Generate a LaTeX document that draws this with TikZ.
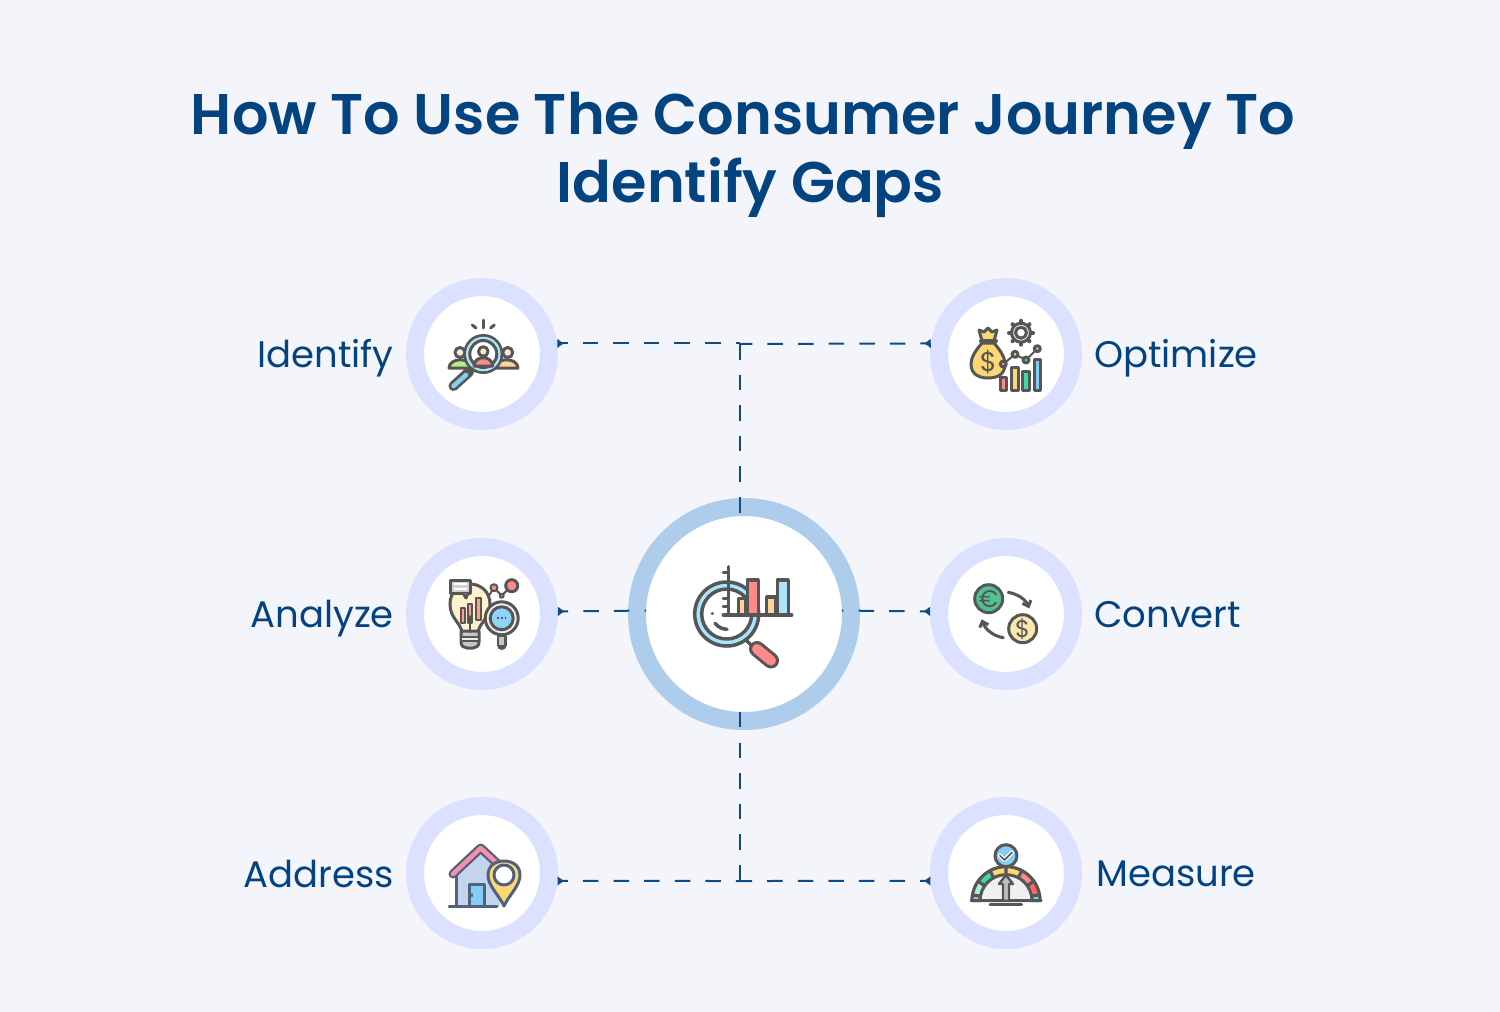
\documentclass[tikz,border=0pt]{standalone}
\usepackage{fontspec}
\setmainfont{Poppins}
\newfontfamily\titlefont{Poppins SemiBold}
\usetikzlibrary{arrows.meta,calc}
\definecolor{bgcol}{HTML}{F4F5FB}
\definecolor{navy}{HTML}{03437F}
\definecolor{ringcol}{HTML}{DCE1FF}
\definecolor{hubcol}{HTML}{AECDEC}
\definecolor{linecol}{HTML}{0F4C86}
\definecolor{icgray}{HTML}{565656}
\definecolor{icslate}{HTML}{52617F}
\definecolor{icpink}{HTML}{FF8A8A}
\definecolor{icrose}{HTML}{F78FAD}
\definecolor{icyellow}{HTML}{FBD873}
\definecolor{icgreen}{HTML}{3EDB9F}
\definecolor{icteal}{HTML}{52C293}
\definecolor{iclime}{HTML}{B4EE8C}
\definecolor{icblue}{HTML}{84CDF5}
\definecolor{icorange}{HTML}{FFD29A}
\definecolor{icsky}{HTML}{A8E6FC}
\definecolor{ichouse}{HTML}{C3D4EC}
\tikzset{
  x=1pt,y=-1pt,
  ring/.style={circle,draw=ringcol,line width=18pt,fill=white,minimum size=134pt,inner sep=0pt},
  hubring/.style={circle,draw=hubcol,line width=18pt,fill=white,minimum size=214pt,inner sep=0pt},
  hubcore/.style={circle,minimum size=196pt,inner sep=0pt,outer sep=0pt},
  lab/.style={font=\fontsize{37}{44}\selectfont,text=navy,inner sep=0pt},
  link/.style={draw=linecol,line width=2pt,dash pattern=on 15.5pt off 15.1pt},
  tiplink/.style={link,dash phase=9.6pt,{Latex[reversed,length=7pt,width=10pt]}-},
  ic/.style={draw=icgray,line width=3pt,line join=round,line cap=round},
  sl/.style={draw=icslate,line width=3pt,line join=round,line cap=round},
  icontext/.style={inner sep=0pt,text=icgray}
}
\begin{document}
\begin{tikzpicture}
\useasboundingbox[fill=bgcol] (0,0) rectangle (1500,1012);
\node[font=\titlefont\fontsize{57.3}{68}\selectfont,text=navy,align=center,inner sep=0pt] (title) at (743,155) {How To Use The Consumer Journey To\\\hspace*{15pt}Identify Gaps};

\node[hubring] (hub) at (744,614) {};
\node[hubcore] (core) at (744,614) {};
\node[ring] (identify) at (482,354) {};
\node[ring] (optimize) at (1006,354) {};
\node[ring] (analyze) at (482,614) {};
\node[ring] (convert) at (1006,614) {};
\node[ring] (address) at (482,873) {};
\node[ring] (measure) at (1006,873) {};

\node[lab,anchor=base east] (identifylab) at (394,367) {Identify};
\node[lab,anchor=base east] (analyzelab) at (394,627) {Analyze};
\node[lab,anchor=base east] (addresslab) at (394,887) {Address};
\node[lab,anchor=base west] (optimizelab) at (1094,367) {Optimize};
\node[lab,anchor=base west] (convertlab) at (1094,627) {Convert};
\node[lab,anchor=base west] (measurelab) at (1096,886) {Measure};

\coordinate (topjoin) at (740,344);
\coordinate (botjoin) at (740,881);
\draw[tiplink] (identify.8) -- (identify.8 -| topjoin);
\draw[tiplink] (optimize.172) -- (topjoin);
\draw[link] (topjoin) -- (topjoin |- core.92);
\draw[tiplink] (analyze.2) -- (core.178);
\draw[tiplink] (convert.178) -- (core.2);
\draw[link] (botjoin |- core.268) -- (botjoin);
\draw[tiplink] (address.354) -- (botjoin);
\draw[tiplink] (measure.186) -- (botjoin);

\draw[draw=icsky,line width=6pt] (726.7,614) circle (28.5pt);
\draw[ic,line width=3.5pt] (726.7,614) circle (32pt);
\draw[ic,line width=3.5pt] (726.7,614) circle (25pt);
\fill[white] (729,599) rectangle (747,613);
\draw[ic,line width=3.5pt,fill=icorange] (738.3,615) rectangle (746,598.3);
\draw[ic,line width=3.5pt,fill=icpink] (747.3,615) rectangle (758.3,580);
\draw[ic,line width=3.5pt,fill=icorange] (766.7,615) rectangle (776,597);
\draw[ic,line width=3.5pt,fill=icsky] (777.3,615) rectangle (788.3,580);
\draw[ic,line width=3.5pt] (728.3,566.7) -- (728.3,615);
\draw[ic,line width=3.5pt] (723.3,615) -- (791.7,615);
\draw[ic,line width=3.5pt] (723.3,572.3) -- (728,572.3) (723.3,598.3) -- (728,598.3) (723.3,606.7) -- (728,606.7);
\draw[ic,line width=3.5pt] (746,640) -- (752,646);
\draw[ic,line width=16pt] (757,649) -- (771,660.5);
\draw[icpink,line width=10pt,line cap=round] (757,649) -- (771,660.5);
\draw[ic,line width=3.5pt] (712.3,613.3) -- (712.4,613.3);
\draw[ic,line width=3.5pt] (715,623.3) .. controls (719,628) and (723,629) .. (727,629.3);

\draw[ic] (483.3,320) -- (483.3,328);
\draw[ic] (472.3,325) -- (476,328);
\draw[ic] (494.3,325) -- (490.6,328);
\draw[ic,fill=iclime] (449,368) .. controls (449,358) and (470,356) .. (472,368) -- cycle;
\draw[ic,fill=icorange] (495,368) .. controls (497,356) and (518,358) .. (518,368) -- cycle;
\draw[ic,fill=icorange!50!white] (460,352.5) circle (5pt);
\draw[ic,fill=icorange!50!white] (507.7,352.5) circle (5pt);
\draw[ic,line width=10pt] (469,372) -- (453.5,386);
\draw[icblue,line width=4.5pt,line cap=round] (466,375) -- (453.5,386);
\draw[ic,fill=white] (483.3,354) circle (18.5pt);
\draw[icsky,line width=3.5pt] (483.3,354) circle (15.5pt);
\draw[ic] (483.3,354) circle (13.5pt);
\draw[ic,fill=icpink] (474,366) .. controls (474,355) and (492.6,355) .. (492.6,366) -- cycle;
\draw[ic,fill=icorange!50!white] (483.3,351.5) circle (4.8pt);

\foreach \a in {0,45,...,315} \draw[ic,line width=4pt] (1021,332.7) ++(\a:9.5pt) -- ++(\a:2.5pt);
\draw[ic,fill=gray!18] (1021,332.7) circle (9.5pt);
\draw[ic,fill=white] (1021,332.7) circle (5.5pt);
\draw[ic,fill=icyellow] (982,341) -- (979,330) -- (984,332) -- (988,328) -- (992,332) -- (997,330) -- (994,341) -- cycle;
\draw[ic,fill=icyellow] (982,343) .. controls (976,350) and (971,357) .. (971,364) .. controls (971,375) and (980,378) .. (988,378) .. controls (997,378) and (1005,375) .. (1005,364) .. controls (1005,357) and (1000,350) .. (994,343) -- cycle;
\draw[ic,line width=4pt] (981,341) -- (996,341);
\node[icontext] (bagsign) at (988.3,362) {\fontsize{27}{27}\selectfont\$};
\draw[ic,line width=2pt] (1003.3,364) -- (1015,354.3) -- (1026,360) -- (1037.3,348.7);
\draw[ic,fill=icpink] (1003.3,364) circle (3pt);
\draw[ic,fill=icyellow] (1015,354.3) circle (3pt);
\draw[ic,fill=icgreen] (1026,360) circle (3pt);
\draw[ic,fill=icblue] (1037.3,348.7) circle (3pt);
\draw[ic,fill=icpink] (1000,377.3) rectangle (1006.7,390);
\draw[ic,fill=icyellow] (1011,367.3) rectangle (1018.3,390);
\draw[ic,fill=icgreen] (1022.7,371.7) rectangle (1029.3,390);
\draw[ic,fill=icblue] (1034,359) rectangle (1040.7,390);

\draw[ic,fill=icyellow!35!white] (462,632) .. controls (460,622) and (450,618) .. (450,604) .. controls (450,592) and (459,584) .. (470,584) .. controls (481,584) and (490,592) .. (490,604) .. controls (490,618) and (480,622) .. (478,632) -- cycle;
\draw[ic,fill=gray!45] (461,631) -- (479,631) -- (479,642) .. controls (479,646) and (476,648) .. (473,648) -- (467,648) .. controls (464,648) and (461,646) .. (461,642) -- cycle;
\draw[ic,line width=2pt,fill=gray!15] (461,637) rectangle (479,641);
\draw[ic,line width=2pt,fill=icpink!70!icorange] (460.5,623) rectangle (464.5,608);
\draw[ic,line width=2pt,fill=icpink!70!icorange] (468,623) rectangle (472,604);
\draw[ic,line width=2pt,fill=icpink!70!icorange] (476,620) rectangle (481,598);
\draw[ic,line width=2pt] (470,632) -- (470,616);
\draw[ic,fill=gray!35] (450,580) rectangle (470.7,593);
\draw[ic,fill=gray!35] (463,593) -- (466,598) -- (468,593);
\draw[white,line width=1.8pt] (454,584) -- (467,584) (454,589) -- (467,589);
\draw[ic,line width=2pt] (488,597) -- (494,587.7) -- (501.7,595.7) -- (511.7,585.7);
\draw[ic,line width=2pt,fill=icpink] (494,587.7) circle (3.5pt);
\draw[ic,line width=2pt,fill=icpink] (501.7,595.7) circle (2pt);
\draw[ic,fill=icpink] (511.7,585.7) circle (6pt);
\draw[ic,line width=10pt] (501.7,637) -- (501.7,645);
\draw[gray!45,line width=5pt] (501.7,637) -- (501.7,645);
\draw[ic,fill=gray!12] (501.7,618.3) circle (16.5pt);
\draw[ic,fill=icblue!70!icsky] (501.7,618.3) circle (11.5pt);
\draw[draw=icgray,line width=1.8pt,dash pattern=on 1.8pt off 2pt] (497,618.3) -- (507,618.3);

\draw[ic,fill=icteal] (988.7,598.7) circle (14pt);
\node[icontext] (eurosign) at (988.7,598.7) {\fontsize{24}{24}\selectfont €};
\draw[ic,fill=icyellow!60!white] (1022.7,628.7) circle (14pt);
\node[icontext] (dollarsign) at (1022.7,628.7) {\fontsize{24}{24}\selectfont\$};
\draw[ic,-{Straight Barb[length=5pt,width=9pt]}] (1008.3,592.3) .. controls (1018,594) and (1026,600) .. (1029.3,608.5);
\draw[ic,-{Straight Barb[length=5pt,width=9pt]}] (1003.3,637.7) .. controls (993,636) and (985,629) .. (981.7,619.3);

\draw[fill=ichouse,draw=none] (456,879) -- (456,869) -- (480.7,848) -- (500,866) -- (500,906) -- (456,906) -- cycle;
\draw[sl] (456,875) -- (456,906);
\draw[sl,line width=9pt] (453,874) -- (480.7,848) -- (500,866);
\draw[draw=icrose,line width=4.5pt,line cap=round,line join=round] (453,874) -- (480.7,848) -- (500,866);
\draw[sl,fill=icblue] (469,906) rectangle (484,884);
\draw[sl] (449,906) -- (497,906);
\draw[sl,line width=2pt] (472,894) -- (472,896);
\draw[sl,fill=icyellow] (504,906) .. controls (499,895) and (488,886) .. (488,875) .. controls (488,866) and (495,861) .. (504,861) .. controls (513,861) and (520,866) .. (520,875) .. controls (520,886) and (509,895) .. (504,906) -- cycle;
\draw[sl,fill=white] (504,875) circle (10pt);

\draw[ic,fill=gray!12] (972,900.7) arc[start angle=180,end angle=0,radius=34pt] -- cycle;
\draw[ic,fill=icblue] ($(1006,900.7)+(180:34pt)$) arc[start angle=180,end angle=170,radius=34pt] -- ($(1006,900.7)+(170:26pt)$) arc[start angle=170,end angle=180,radius=26pt] -- cycle;
\draw[ic,fill=icgreen!45!white] ($(1006,900.7)+(170:34pt)$) arc[start angle=170,end angle=145,radius=34pt] -- ($(1006,900.7)+(145:26pt)$) arc[start angle=145,end angle=170,radius=26pt] -- cycle;
\draw[ic,fill=icgreen] ($(1006,900.7)+(145:34pt)$) arc[start angle=145,end angle=118,radius=34pt] -- ($(1006,900.7)+(118:26pt)$) arc[start angle=118,end angle=145,radius=26pt] -- cycle;
\draw[ic,fill=icyellow] ($(1006,900.7)+(118:34pt)$) arc[start angle=118,end angle=90,radius=34pt] -- ($(1006,900.7)+(90:26pt)$) arc[start angle=90,end angle=118,radius=26pt] -- cycle;
\draw[ic,fill=icyellow] ($(1006,900.7)+(90:34pt)$) arc[start angle=90,end angle=62,radius=34pt] -- ($(1006,900.7)+(62:26pt)$) arc[start angle=62,end angle=90,radius=26pt] -- cycle;
\draw[ic,fill=icpink] ($(1006,900.7)+(62:34pt)$) arc[start angle=62,end angle=35,radius=34pt] -- ($(1006,900.7)+(35:26pt)$) arc[start angle=35,end angle=62,radius=26pt] -- cycle;
\draw[ic,fill=icpink!75!red] ($(1006,900.7)+(35:34pt)$) arc[start angle=35,end angle=10,radius=34pt] -- ($(1006,900.7)+(10:26pt)$) arc[start angle=10,end angle=35,radius=26pt] -- cycle;
\draw[ic,fill=icblue] ($(1006,900.7)+(10:34pt)$) arc[start angle=10,end angle=0,radius=34pt] -- ($(1006,900.7)+(0:26pt)$) arc[start angle=0,end angle=10,radius=26pt] -- cycle;
\draw[ic] (971,900.7) -- (1041,900.7);
\draw[ic] (990,904.7) -- (1021.7,904.7);
\draw[ic,line width=2.4pt,fill=gray!50] (1006,875) -- (1013,884) -- (1009,884) -- (1009,900.7) -- (1003,900.7) -- (1003,884) -- (999,884) -- cycle;
\draw[ic,fill=icblue] (1006,855.7) circle (11pt);
\draw[white,line width=4pt,line cap=round,line join=round] (1000,855.7) -- (1004.5,860) -- (1012,852.5);
\draw[ic,line width=1.5pt] (1000,855.7) -- (1004.5,860) -- (1012,852.5);
\end{tikzpicture}
\end{document}
